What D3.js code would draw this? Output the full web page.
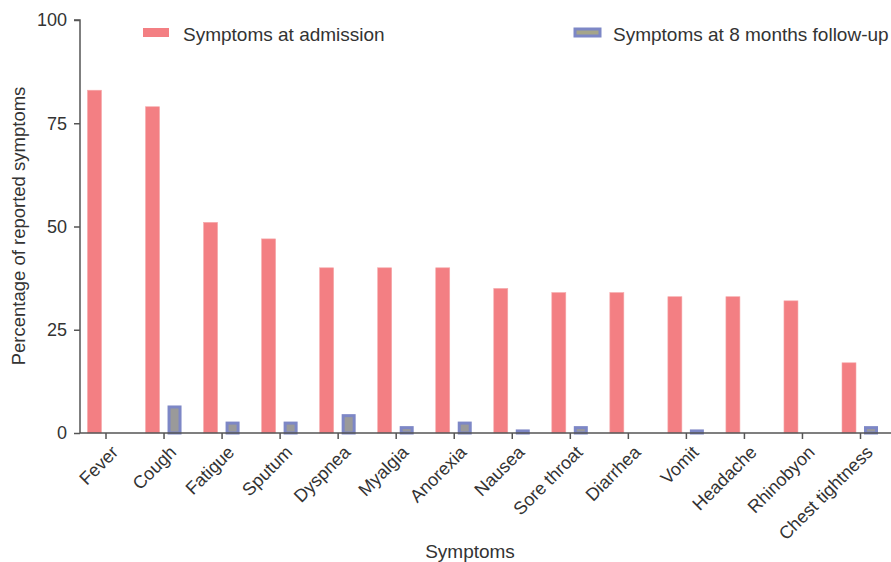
<!DOCTYPE html>
<html>
<head>
<meta charset="utf-8">
<script src="https://cdn.jsdelivr.net/npm/d3@7"></script>
<style>
  body { margin: 0; background: #fff; }
  text { font-family: "Liberation Sans", Arial, sans-serif; fill: #333; }
</style>
</head>
<body>
<div id="chart"></div>
<script>
const symptoms = ["Fever", "Cough", "Fatigue", "Sputum", "Dyspnea", "Myalgia", "Anorexia",
  "Nausea", "Sore throat", "Diarrhea", "Vomit", "Headache", "Rhinobyon", "Chest tightness"];
const admission = [83, 79, 51, 47, 40, 40, 40, 35, 34, 34, 33, 33, 32, 17];
const followUp = [0, 6.3, 2.4, 2.4, 4.2, 1.3, 2.4, 0.5, 1.3, 0, 0.5, 0, 0, 1.3];
const yTicks = [0, 25, 50, 75, 100];
const seriesNames = ["Symptoms at admission", "Symptoms at 8 months follow-up"];

(function drawChart() {
  const width = 891, height = 562;
  const axisColor = "#555";

  const svg = d3.select("#chart").append("svg")
    .attr("width", width)
    .attr("height", height);

  const x = d3.scalePoint().domain(symptoms).range([105.5, 860]);
  const y = d3.scaleLinear().domain([0, 100]).range([433, 20]);

  // bars at admission
  svg.append("g")
    .selectAll("rect")
    .data(symptoms)
    .join("rect")
    .attr("x", (d) => x(d) - 18)
    .attr("y", (d, i) => y(admission[i]))
    .attr("width", 14)
    .attr("height", (d, i) => y(0) - y(admission[i]))
    .attr("fill", "#f37f83")
    .attr("stroke", "#f6a9ab")
    .attr("stroke-width", 0.6);

  // bars at follow-up
  svg.append("g")
    .selectAll("rect")
    .data(symptoms.filter((d, i) => followUp[i] > 0))
    .join("rect")
    .attr("x", (d) => x(d) + 5.5)
    .attr("y", (d) => y(followUp[symptoms.indexOf(d)]))
    .attr("width", 11)
    .attr("height", (d) => y(0) - y(followUp[symptoms.indexOf(d)]))
    .attr("fill", "#9a9a9a")
    .attr("stroke", "#7d87c6")
    .attr("stroke-width", 3);

  // y axis
  const yAxis = svg.append("g")
    .attr("transform", "translate(80,0)")
    .call(d3.axisLeft(y).tickValues(yTicks).tickSize(6).tickPadding(7));
  yAxis.select(".domain").attr("d", `M-6,${y(100)}H0V${y(0)}`);
  yAxis.selectAll("line, .domain").attr("stroke", axisColor).attr("stroke-width", 1.5);
  yAxis.selectAll("text").style("font-size", "18px").attr("fill", "#333");

  // x axis
  const xAxis = svg.append("g")
    .attr("transform", `translate(0,${y(0)})`)
    .call(d3.axisBottom(x).tickSize(6).tickSizeOuter(0));
  xAxis.select(".domain").attr("d", `M80,0H${width}`);
  xAxis.selectAll("line, .domain").attr("stroke", axisColor).attr("stroke-width", 1.5);
  xAxis.selectAll("text")
    .style("font-size", "18px")
    .attr("fill", "#333")
    .attr("text-anchor", "end")
    .attr("dy", "0")
    .attr("transform", "translate(7,14) rotate(-45)");

  // axis titles
  svg.append("text")
    .attr("transform", "translate(25,226) rotate(-90)")
    .attr("text-anchor", "middle")
    .style("font-size", "18.5px")
    .text("Percentage of reported symptoms");

  svg.append("text")
    .attr("x", 470)
    .attr("y", 558)
    .attr("text-anchor", "middle")
    .style("font-size", "19px")
    .text("Symptoms");

  // legend
  const legend = svg.append("g");
  legend.append("rect")
    .attr("x", 143).attr("y", 28).attr("width", 26).attr("height", 9)
    .attr("fill", "#f37f83");
  legend.append("text")
    .attr("x", 183).attr("y", 41)
    .style("font-size", "19px")
    .text(seriesNames[0]);
  legend.append("rect")
    .attr("x", 575).attr("y", 29).attr("width", 25).attr("height", 7)
    .attr("fill", "#a5a58a")
    .attr("stroke", "#7d87c6")
    .attr("stroke-width", 3);
  legend.append("text")
    .attr("x", 613).attr("y", 41)
    .style("font-size", "19px")
    .text(seriesNames[1]);
})();
</script>
</body>
</html>
